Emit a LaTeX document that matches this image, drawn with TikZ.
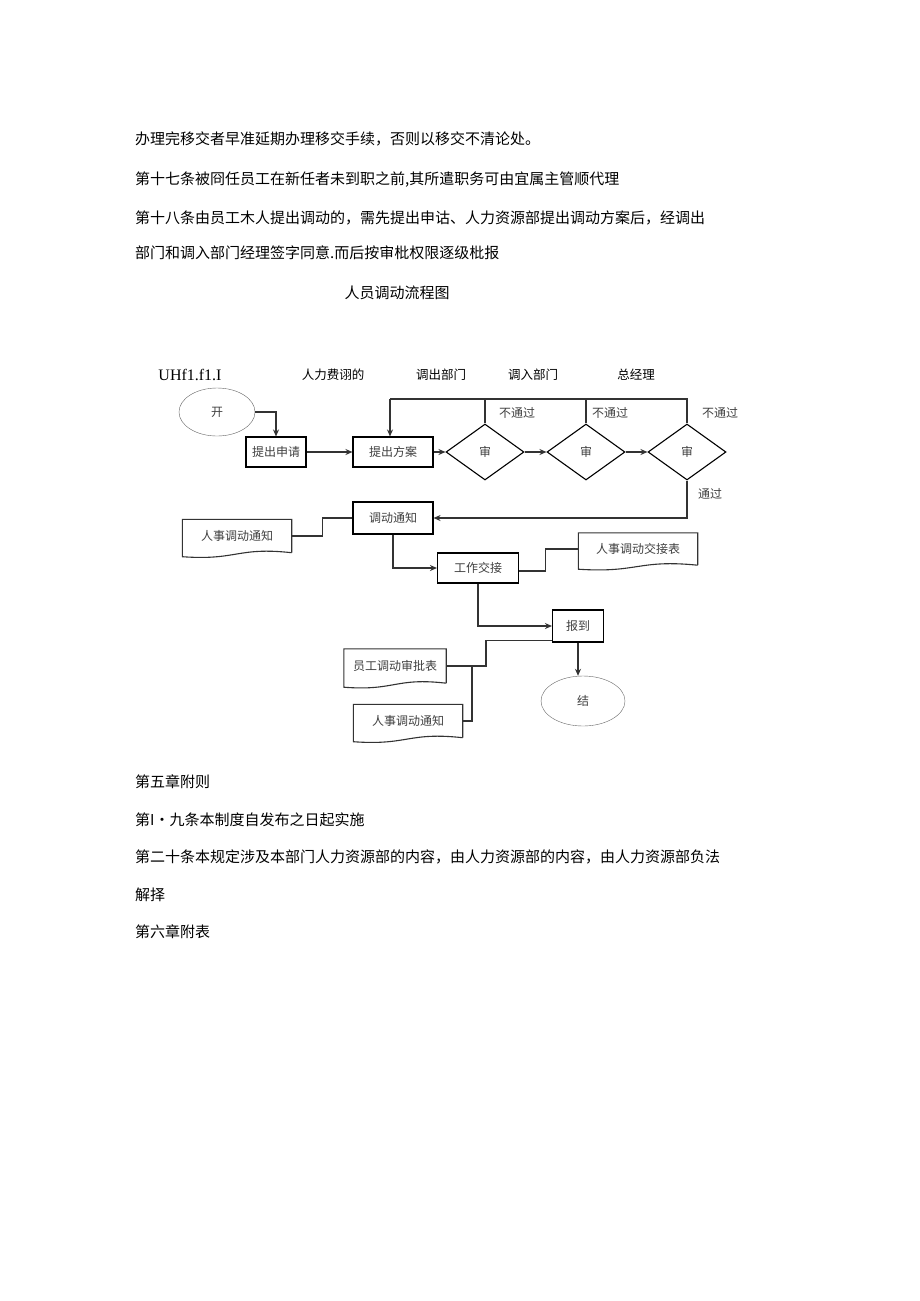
\documentclass[tikz,border=0pt]{standalone}
\usepackage{fontspec}
\setmainfont{Noto Sans CJK SC}
\newfontfamily\latinserif{Liberation Serif}
\usetikzlibrary{calc,shapes.geometric,arrows.meta}
\begin{document}
\begin{tikzpicture}[x=1pt,y=-1pt,
  body/.style={anchor=west,font=\fontsize{15}{15}\selectfont,inner sep=0},
  hdr/.style={font=\fontsize{12.5}{13}\selectfont,inner sep=0},
  lbl/.style={font=\fontsize{12}{12}\selectfont,text=black!75,inner sep=0},
  box/.style={draw,line width=1.1pt,font=\fontsize{12}{12}\selectfont,text=black!75,inner sep=0},
  dia/.style={draw,line width=1.1pt,diamond,aspect=1.35,minimum width=78pt,minimum height=56pt,inner sep=0,font=\fontsize{12}{12}\selectfont,text=black!75},
  ell/.style={draw=black!60,ellipse,font=\fontsize{12}{12}\selectfont,text=black!75,inner sep=0},
  docn/.style={font=\fontsize{12}{12}\selectfont,text=black!75,inner sep=0},
  ln/.style={line width=1.1pt,black!80},
  arr/.style={ln,-{Stealth[length=7pt,width=6pt]}}]
\useasboundingbox (0,0) rectangle (920,1301);
\fill[white] (0,0) rectangle (920,1301);
% text
\node[body] (t1) at (135,139) {办理完移交者早准延期办理移交手续，否则以移交不清论处。};
\node[body] (t2) at (135,180) {第十七条被冏任员工在新任者未到职之前,其所遣职务可由宜属主管顺代理};
\node[body] (t3) at (135,218) {第十八条由员工木人提出调动的，需先提出申诂、人力资源部提出调动方案后，经调出};
\node[body] (t4) at (135,253) {部门和调入部门经理签字同意.而后按审枇权限逐级枇报};
\node[font=\fontsize{15}{15}\selectfont,inner sep=0] (title) at (397,293) {人员调动流程图};
% headers
\node[hdr,font=\latinserif\fontsize{16}{16}\selectfont] (h0) at (190,375) {UHf1.f1.I};
\node[hdr] (h1) at (333,375) {人力费诩的};
\node[hdr] (h2) at (441,375) {调出部门};
\node[hdr] (h3) at (533,375) {调入部门};
\node[hdr] (h4) at (636,375) {总经理};
% nodes
\node[ell,minimum width=76pt,minimum height=48pt] (start) at (217,412) {开};
\node[box,minimum width=60pt,minimum height=30pt] (apply) at (276,452) {提出申请};
\node[box,minimum width=80pt,minimum height=30pt] (plan) at (393,452) {提出方案};
\node[dia] (d1) at (485,452) {审};
\node[dia] (d2) at (586,452) {审};
\node[dia] (d3) at (687,452) {审};
\node[box,minimum width=80pt,minimum height=32pt] (notice) at (393,518) {调动通知};
\node[box,minimum width=81pt,minimum height=30pt] (handover) at (478,568) {工作交接};
\node[box,minimum width=51pt,minimum height=32pt] (report) at (578,626) {报到};
\node[ell,minimum width=84pt,minimum height=50pt] (end) at (583,701) {结};
\node[docn,minimum width=109pt,minimum height=33pt] (doc1) at (237,536) {人事调动通知};
\node[docn,minimum width=119pt,minimum height=32pt] (doc2) at (638,549) {人事调动交接表};
\node[docn,minimum width=102pt,minimum height=34pt] (doc3) at (395,666) {员工调动审批表};
\node[docn,minimum width=109pt,minimum height=33pt] (doc4) at (408,721) {人事调动通知};
\foreach \n in {doc1,doc2,doc3,doc4}{
  \draw[ln] (\n.south east) -- (\n.north east) -- (\n.north west) -- ($(\n.south west)+(0,4)$)
    .. controls ($(\n.south west)!0.5!(\n.south east)+(0,8)$) and ($(\n.south west)!0.5!(\n.south east)+(0,-6)$) .. (\n.south east);
}
% labels
\node[lbl] (n1) at (517,413) {不通过};
\node[lbl] (n2) at (610,413) {不通过};
\node[lbl] (n3) at (720,413) {不通过};
\node[lbl] (p3) at (710,494) {通过};
% connectors
\coordinate (loopL) at (390,399);
\draw[arr] (start.east) -| (apply.north);
\draw[arr] (apply) -- (plan);
\draw[arr] (plan) -- (d1);
\draw[arr] (d1) -- (d2);
\draw[arr] (d2) -- (d3);
\draw[ln] (d1.north) |- (loopL);
\draw[ln] (d2.north) |- (loopL);
\draw[ln] (d3.north) |- (loopL);
\draw[arr] (loopL) -- (loopL |- plan.north);
\draw[arr] (d3.south) |- (notice.east);
\draw[ln] (doc1.east) -- ++(31,0) |- (notice.west);
\draw[arr] (notice.south) |- (handover.west);
\draw[ln] ($(handover.east)+(0,3)$) -- ++(26,0) |- (doc2.west);
\draw[arr] (handover.south) |- (report.west);
\draw[arr] (report.south) -- (report.south |- end.north);
\coordinate (jn) at (486,666);
\coordinate (jn2) at (472,666);
\draw[ln] ($(report.south west)+(0,-2)$) -| (jn) -- (doc3.east);
\draw[ln] (doc4.east) -| (jn2);
% footer
\node[body] (f1) at (135,782) {第五章附则};
\node[body] (f2) at (135,820) {第I•九条本制度自发布之日起实施};
\node[body] (f3) at (135,857) {第二十条本规定涉及本部门人力资源部的内容，由人力资源部的内容，由人力资源部负法};
\node[body] (f4) at (135,895) {解择};
\node[body] (f5) at (135,932) {第六章附表};
\end{tikzpicture}
\end{document}
